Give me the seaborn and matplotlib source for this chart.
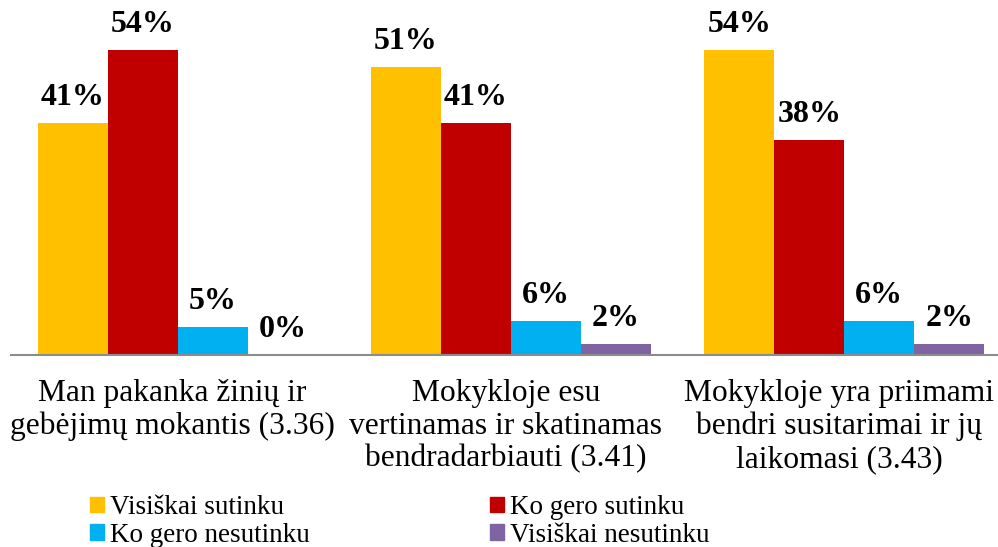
import matplotlib.pyplot as plt
import matplotlib.transforms as mtransforms
import pandas as pd
import seaborn as sns
from matplotlib.patches import Patch

# Duomenys
klausimai = ['Man pakanka žinių ir\ngebėjimų mokantis (3.36)',
             'Mokykloje esu\nvertinamas ir skatinamas\nbendradarbiauti (3.41)',
             'Mokykloje yra priimami\nbendri susitarimai ir jų\nlaikomasi (3.43)']
atsakymai = ['Visiškai sutinku', 'Ko gero sutinku',
             'Ko gero nesutinku', 'Visiškai nesutinku']
visiskai_sutinku = [41, 51, 54]
ko_gero_sutinku = [54, 41, 38]
ko_gero_nesutinku = [5, 6, 6]
visiskai_nesutinku = [0, 2, 2]
spalvos = ['#FFC000', '#C00000', '#00B0F0', '#8064A2']

rows = []
for ats, vals in zip(atsakymai, [visiskai_sutinku, ko_gero_sutinku,
                                 ko_gero_nesutinku, visiskai_nesutinku]):
    for k, v in zip(klausimai, vals):
        rows.append({'Klausimas': k, 'Atsakymas': ats, 'Procentai': v})
df = pd.DataFrame(rows)

sns.set_style('white')
plt.rcParams['font.family'] = ['Liberation Serif', 'DejaVu Serif']
plt.rcParams['text.color'] = 'black'
plt.rcParams['xtick.color'] = 'black'

fig = plt.figure(figsize=(9.98, 5.47), dpi=100)
ax = fig.add_axes([11 / 998, 1 - 355 / 547, 1000 / 998, 339 / 547])

sns.barplot(data=df, x='Klausimas', y='Procentai', hue='Atsakymas',
            hue_order=atsakymai, palette=spalvos, width=0.84, gap=0,
            saturation=1, linewidth=0, ax=ax, legend=False)

for cont in ax.containers:
    ax.bar_label(cont, fmt='{:.0f}%', padding=8, fontsize=23,
                 fontweight='bold', color='black')

ax.set_ylim(0, 60)
ax.set_xlim(-0.5, 2.5)
ax.set_xlabel('')
ax.set_ylabel('')
ax.set_yticks([])
ax.tick_params(axis='x', length=0, pad=17.5, labelsize=22.7, labelcolor='black')
shift = mtransforms.ScaledTranslation(-5 / 100, 0, fig.dpi_scale_trans)
for lab in ax.get_xticklabels():
    lab.set_linespacing(1.16)
    lab.set_transform(lab.get_transform() + shift)
for s in ['top', 'right', 'left']:
    ax.spines[s].set_visible(False)
ax.spines['bottom'].set_color('#8C8C8C')
ax.spines['bottom'].set_linewidth(1.5)

# Legenda (eilutėmis po du)
handles = [Patch(color=c) for c in spalvos]
order = [0, 2, 1, 3]
fig.legend([handles[i] for i in order], [atsakymai[i] for i in order],
           ncol=2, loc='upper left', bbox_to_anchor=(90 / 998, 1 - 495 / 547),
           frameon=False, fontsize=19.5, handlelength=0.52, handleheight=0.52,
           handletextpad=0.22, columnspacing=6.65, labelspacing=0.1,
           borderpad=0, borderaxespad=0)

fig.savefig('out.png', dpi=100)
